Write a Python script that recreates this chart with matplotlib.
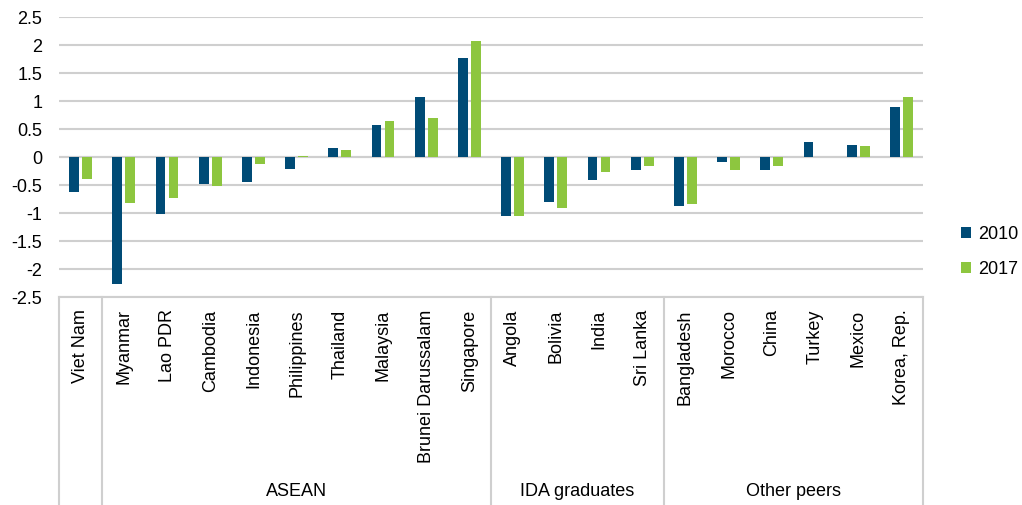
import matplotlib.pyplot as plt
import numpy as np

plt.rcParams['font.family'] = ['Liberation Sans', 'DejaVu Sans']

countries = ['Viet Nam', 'Myanmar', 'Lao PDR', 'Cambodia', 'Indonesia', 'Philippines',
             'Thailand', 'Malaysia', 'Brunei Darussalam', 'Singapore',
             'Angola', 'Bolivia', 'India', 'Sri Lanka',
             'Bangladesh', 'Morocco', 'China', 'Turkey', 'Mexico', 'Korea, Rep.']
v2010 = [-0.62, -2.27, -1.01, -0.48, -0.44, -0.22, 0.16, 0.58, 1.08, 1.76,
         -1.05, -0.80, -0.41, -0.23, -0.87, -0.09, -0.23, 0.26, 0.22, 0.90]
v2017 = [-0.40, -0.83, -0.73, -0.51, -0.12, 0.01, 0.12, 0.65, 0.69, 2.08,
         -1.05, -0.91, -0.27, -0.16, -0.84, -0.23, -0.16, 0.0, 0.19, 1.08]
groups = ['', 'ASEAN', 'IDA graduates', 'Other peers']
group_sizes = [1, 9, 4, 6]

blue = '#004B76'
green = '#8DC63F'
grid_c = '#CFCFCF'
fs = 13

fig = plt.figure(figsize=(10.22, 5.05), dpi=100)
ax = fig.add_axes([59/1022, 1-297/505, 864/1022, 280/505])

x = np.arange(len(countries))
w = 0.23
ax.bar(x - 0.15, v2010, w, color=blue, label='2010', zorder=3)
ax.bar(x + 0.15, v2017, w, color=green, label='2017', zorder=3)

ax.set_xlim(-0.5, len(countries) - 0.5)
ax.set_ylim(-2.5, 2.5)
ax.set_yticks(np.arange(-2.5, 2.51, 0.5))
ax.set_yticklabels([f'{t:g}' for t in np.arange(-2.5, 2.51, 0.5)])
ax.grid(axis='y', color=grid_c, linewidth=1.5, zorder=0)
ax.axhline(0, color=grid_c, linewidth=1.5, zorder=1)
for s in ax.spines.values():
    s.set_visible(False)
ax.tick_params(axis='y', length=0, pad=12, labelsize=fs)

ax.set_xticks(x)
ax.set_xticklabels(countries, rotation=90, va='top', ha='center')
ax.tick_params(axis='x', length=0, pad=9, labelsize=fs)

# category box below the plot
tr = ax.get_xaxis_transform()
ybot = -0.74
ax.plot([-0.5, len(countries) - 0.5], [0, 0], transform=tr, color=grid_c,
        linewidth=1.5, clip_on=False)
edges = np.concatenate([[0], np.cumsum(group_sizes)]) - 0.5
for e in edges:
    ax.plot([e, e], [0, ybot], transform=tr, color=grid_c, linewidth=1.5, clip_on=False)
for g, a, b in zip(groups, edges[:-1], edges[1:]):
    if g:
        ax.text((a + b) / 2, -0.695, g, transform=tr, ha='center', va='center',
                fontsize=fs)

ax.legend(loc='center left', bbox_to_anchor=(1.0255, 0.16), frameon=False,
          fontsize=fs, handlelength=0.55, handleheight=0.55, handletextpad=0.4,
          labelspacing=1.0)

fig.savefig('out.png', dpi=100)
